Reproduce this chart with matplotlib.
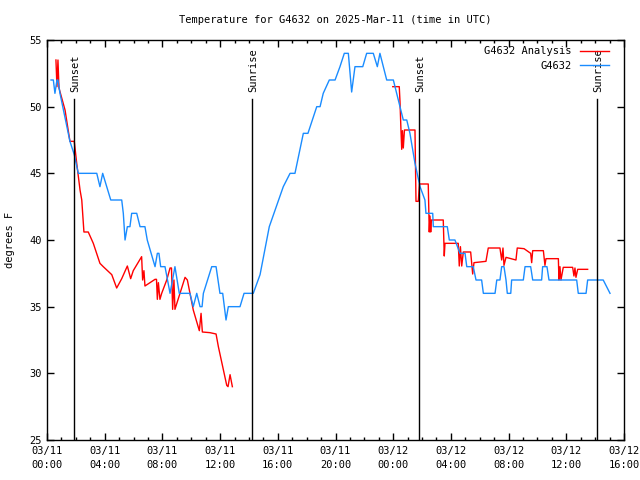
import matplotlib
matplotlib.use("Agg")
import matplotlib.pyplot as plt
from matplotlib.ticker import MultipleLocator

# hours since 03/11 00:00 UTC
obs_hours = [0.28, 0.44, 0.55, 0.69, 0.76, 0.90, 1.59, 1.89, 2.17, 3.45, 3.67, 3.86, 4.42, 5.18, 5.29,
             5.41, 5.57, 5.75, 5.87, 6.22, 6.45, 6.79, 6.95, 7.49, 7.65, 7.76, 7.88, 8.18, 8.53, 8.87,
             9.17, 9.91, 10.14, 10.38, 10.61, 10.75, 10.84, 11.42, 11.72, 11.99, 12.18, 12.41, 12.57,
             13.38, 13.66, 14.30, 14.77, 15.41, 16.38, 16.85, 17.19, 17.77, 18.09, 18.70, 18.93, 19.15,
             19.57, 19.97, 20.31, 20.61, 20.89, 21.12, 21.35, 21.89, 22.16, 22.62, 22.90, 23.08, 23.55,
             24.01, 24.47, 24.70, 24.94, 25.16, 25.51, 25.86, 26.20, 26.27, 26.74, 26.78, 27.75, 27.89,
             28.28, 28.63, 28.98, 29.10, 29.55, 29.74, 30.13, 30.25, 31.06, 31.18, 31.40, 31.52, 31.68,
             31.82, 31.91, 32.15, 32.21, 33.02, 33.14, 33.53, 33.67, 34.29, 34.36, 34.66, 34.80, 36.72,
             36.83, 37.37, 37.48, 38.56, 39.03]
obs_temp = [52, 52, 51, 52, 52, 51, 47.4, 46.4, 45, 45, 44, 45, 43, 43, 42,
            40, 41, 41, 42, 42, 41, 41, 40, 38, 39, 39, 38, 38, 36, 38,
            36, 36, 35, 36, 35, 35, 36, 38, 38, 36, 36, 34, 35,
            35, 36, 36, 37.4, 41, 44, 45, 45, 48, 48, 50, 50, 51,
            52, 52, 53, 54, 54, 51.1, 53, 53, 54, 54, 53, 54, 52,
            52, 50, 49, 49, 48, 45.75, 44, 43, 42, 42, 41, 41, 40,
            40, 39, 39, 38, 38, 37, 37, 36, 36, 37, 37, 38, 38,
            37, 36, 36, 37, 37, 38, 38, 37, 37, 38, 38, 37, 37,
            36, 36, 37, 37, 36]

ana1_hours = [0.62, 0.69, 0.76, 0.83, 1.25, 1.59, 1.89, 2.06, 2.29, 2.41, 2.56, 2.86, 3.21, 3.67, 3.90,
              4.49, 4.83, 5.18, 5.57, 5.80, 5.98, 6.56, 6.63, 6.72, 6.79, 7.49, 7.59, 7.65, 7.72, 7.83,
              7.95, 8.30, 8.53, 8.63, 8.71, 8.80, 8.87, 9.57, 9.73, 10.14, 10.56, 10.68, 10.77, 11.30,
              11.72, 11.88, 12.46, 12.55, 12.69, 12.85]
ana1_temp = [53.5, 51.5, 53.5, 51.4, 49.75, 47.4, 47.4, 45.75, 43.75, 43, 40.6, 40.6, 39.75, 38.25, 38,
             37.4, 36.4, 37.1, 38.05, 37.1, 37.7, 38.75, 37, 37.7, 36.55, 37.05, 37.05, 35.55, 36.8, 35.55,
             36, 37, 37.9, 37.9, 34.8, 37, 34.8, 37.2, 37, 34.75, 33.2, 34.5, 33.1, 33.05,
             32.95, 32, 29.1, 29, 29.9, 29]

ana2_hours = [23.97, 24.42, 24.47, 24.54, 24.59, 24.64, 24.70, 24.78, 25.51, 25.58, 25.74, 25.82, 26.43,
              26.50, 26.55, 26.60, 26.65, 27.47, 27.54, 27.59, 28.51, 28.58, 28.66, 28.75, 28.86, 29.37,
              29.51, 29.60, 30.43, 30.59, 31.40, 31.52, 31.61, 31.68, 31.82, 32.51, 32.60, 33.07, 33.53,
              33.60, 33.67, 34.41, 34.52, 34.59, 35.45, 35.49, 35.56, 35.63, 35.79, 36.44, 36.53, 36.60,
              36.67, 36.79, 37.48]
ana2_temp = [51.5, 51.5, 50.4, 48.2, 46.8, 48.2, 46.9, 48.25, 48.25, 42.9, 42.9, 44.2, 44.2,
             40.6, 41.8, 40.6, 41.5, 41.5, 38.8, 39.75, 39.75, 38.05, 39.5, 38.05, 39.1, 39.1,
             37.45, 38.3, 38.4, 39.4, 39.4, 38.5, 39.4, 38.1, 38.7, 38.5, 39.4, 39.35, 39.0,
             38.3, 39.2, 39.2, 38.1, 38.6, 38.6, 37.0, 38.0, 37.0, 37.95, 37.95, 37.3, 37.9,
             37.2, 37.8, 37.8]

sun_hours = [1.87, 14.22, 25.78, 38.13]
sun_labels = ["Sunset", "Sunrise", "Sunset", "Sunrise"]

tick_hours = [0, 4, 8, 12, 16, 20, 24, 28, 32, 36, 40]
tick_labels = ["03/11\n00:00", "03/11\n04:00", "03/11\n08:00", "03/11\n12:00", "03/11\n16:00",
               "03/11\n20:00", "03/12\n00:00", "03/12\n04:00", "03/12\n08:00", "03/12\n12:00",
               "03/12\n16:00"]
y_ticks = [25, 30, 35, 40, 45, 50, 55]

FONT = "DejaVu Sans Mono"
plt.rcParams["font.family"] = FONT
plt.rcParams["font.size"] = 7

fig = plt.figure(figsize=(6.4, 4.8), dpi=100)
ax = fig.add_axes([47/640, 40/480, 577/640, 400/480])

red = "#ff0000"
blue = "#1a8cff"

ax.plot(ana1_hours, ana1_temp, color=red, lw=1.0, label="G4632 Analysis")
ax.plot(ana2_hours, ana2_temp, color=red, lw=1.0)
ax.plot(obs_hours, obs_temp, color=blue, lw=1.0, label="G4632")

for h, lab in zip(sun_hours, sun_labels):
    ax.plot([h, h], [25, 50.55], color="black", lw=1.0)
    ax.text(h + 0.08, 51.1, lab, rotation=90, ha="center", va="bottom", fontsize=7.5)

ax.set_xlim(0, 40)
ax.set_ylim(25, 55)
ax.set_xticks(tick_hours)
ax.set_xticklabels(tick_labels, linespacing=1.6)
ax.xaxis.set_minor_locator(MultipleLocator(1))
ax.set_yticks(y_ticks)
ax.tick_params(axis="both", which="both", direction="in", top=True, right=True, labelsize=7.5)
ax.tick_params(axis="both", which="major", length=5, width=1, pad=4)
ax.tick_params(axis="x", which="minor", length=2.5, width=1)
for s in ax.spines.values():
    s.set_linewidth(1.0)

ax.set_title("Temperature for G4632 on 2025-Mar-11 (time in UTC)", fontsize=7.5, pad=12)
ax.set_ylabel("degrees F", fontsize=7.5, labelpad=10)

leg = ax.legend(loc="upper right", bbox_to_anchor=(0.981, 0.995), borderaxespad=0.0,
                frameon=False, markerfirst=False, fontsize=7.5,
                handlelength=2.8, handletextpad=0.75, labelspacing=0.45)
for t in leg.get_texts():
    t.set_ha("right")

fig.savefig("out.png", dpi=100)
